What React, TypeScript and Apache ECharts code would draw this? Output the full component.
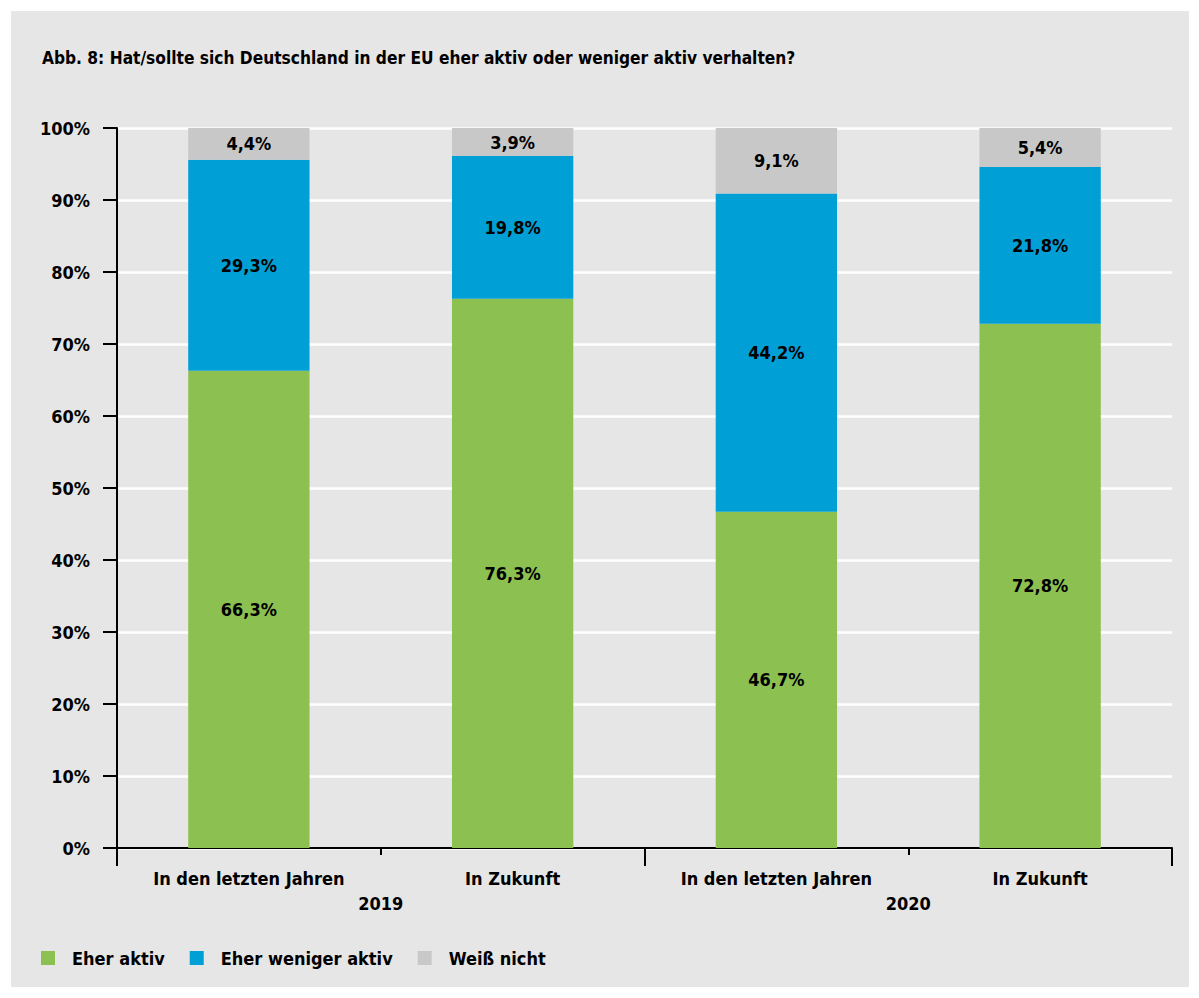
import React, { useEffect, useRef } from "react";
import * as echarts from "echarts";

const categories = ["In den letzten Jahren", "In Zukunft", "In den letzten Jahren", "In Zukunft"];
const years = ["2019", "2020"];
const eherAktiv = [66.3, 76.3, 46.7, 72.8];
const eherWenigerAktiv = [29.3, 19.8, 44.2, 21.8];
const weissNicht = [4.4, 3.9, 9.1, 5.4];
const seriesNames = ["Eher aktiv", "Eher weniger aktiv", "Weiß nicht"];
const titleText = "Abb. 8: Hat/sollte sich Deutschland in der EU eher aktiv oder weniger aktiv verhalten?";

const FONT = "'Liberation Sans Narrow', 'DejaVu Sans Condensed', 'Roboto', sans-serif";
const colors = ["#8cc050", "#009fd6", "#c8c8c8"];

export default function App() {
  const ref = useRef<HTMLDivElement>(null);
  useEffect(() => {
    if (!ref.current) return;
    const chart = echarts.init(ref.current, undefined, { renderer: "svg" });
    const fmt = (p: any) => p.value.toFixed(1).replace(".", ",") + "%";
    const labelStyle = {
      show: true,
      position: "inside",
      color: "#000",
      fontFamily: FONT,
      fontWeight: "bold",
      fontSize: 18,
      formatter: fmt,
    };
    const data = [eherAktiv, eherWenigerAktiv, weissNicht];
    chart.setOption({
      animation: false,
      backgroundColor: "#ffffff",
      textStyle: { fontFamily: FONT },
      graphic: [
        {
          type: "rect",
          z: -10,
          shape: { x: 11, y: 11, width: 1178, height: 976 },
          style: { fill: "#e6e6e6" },
          silent: true,
        },
      ],
      title: {
        text: titleText,
        left: 37,
        top: 44,
        textStyle: { fontFamily: FONT, fontWeight: "bold", fontSize: 17.2, color: "#000" },
      },
      legend: {
        left: 41,
        top: 949,
        padding: 0,
        itemWidth: 14,
        itemHeight: 14,
        itemGap: 25,
        icon: "rect",
        data: seriesNames,
        textStyle: {
          fontFamily: FONT,
          fontWeight: "bold",
          fontSize: 18,
          color: "#000",
          padding: [0, 0, 0, 12],
        },
      },
      grid: { left: 117, right: 27, top: 128, bottom: 150, containLabel: false },
      xAxis: [
        {
          type: "category",
          data: categories,
          position: "bottom",
          axisLine: { show: true, lineStyle: { color: "#000", width: 2 } },
          axisTick: { show: true, length: 7, interval: 0, lineStyle: { color: "#000", width: 2 } },
          axisLabel: {
            interval: 0,
            margin: 21,
            color: "#000",
            fontFamily: FONT,
            fontWeight: "bold",
            fontSize: 18,
          },
        },
        {
          type: "category",
          data: years,
          position: "bottom",
          axisLine: { show: false },
          axisTick: { show: true, length: 18, interval: 0, lineStyle: { color: "#000", width: 2 } },
          axisLabel: {
            interval: 0,
            margin: 46,
            color: "#000",
            fontFamily: FONT,
            fontWeight: "bold",
            fontSize: 18,
          },
        },
      ],
      yAxis: {
        type: "value",
        min: 0,
        max: 100,
        interval: 10,
        axisLine: { show: true, lineStyle: { color: "#000", width: 2 } },
        axisTick: { show: true, length: 14, lineStyle: { color: "#000", width: 2 } },
        axisLabel: {
          formatter: "{value}%",
          margin: 27,
          color: "#000",
          fontFamily: FONT,
          fontWeight: "bold",
          fontSize: 18,
        },
        splitLine: { show: true, lineStyle: { color: "#ffffff", width: 2.5 } },
      },
      series: seriesNames.map((name, i) => ({
        name,
        type: "bar",
        stack: "total",
        xAxisIndex: 0,
        barWidth: "46%",
        data: data[i],
        itemStyle: { color: colors[i] },
        label: labelStyle,
      })),
    });
    return () => chart.dispose();
  }, []);
  return (
    <div
      ref={ref}
      style={{ position: "absolute", left: 0, top: 0, width: 1199, height: 998 }}
    />
  );
}
